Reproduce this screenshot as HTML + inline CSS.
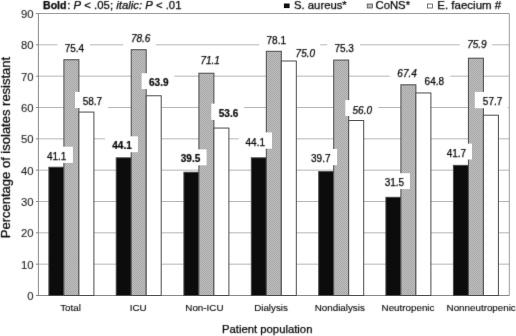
<!DOCTYPE html>
<html><head><meta charset="utf-8"><title>Chart</title>
<style>
html,body{margin:0;padding:0;background:#fff;}
body{width:516px;height:336px;overflow:hidden;}
svg{display:block;}
svg text{font-family:"Liberation Sans",sans-serif;fill:#050505;stroke:#050505;stroke-width:0.25px;}
</style></head><body>
<svg width="516" height="336" viewBox="0 0 516 336">
<defs><filter id="soft" x="0" y="0" width="516" height="336" filterUnits="userSpaceOnUse" color-interpolation-filters="sRGB"><feConvolveMatrix order="3" kernelMatrix="0.01134 0.08382 0.01134 0.08382 0.61935 0.08382 0.01134 0.08382 0.01134" edgeMode="duplicate" preserveAlpha="false"/></filter><pattern id="dots" width="2" height="2" patternUnits="userSpaceOnUse"><rect width="2" height="2" fill="#bdbdbd"/><rect width="1" height="1" fill="#a9a9a9"/><rect x="1" y="1" width="1" height="1" fill="#a9a9a9"/></pattern></defs>
<rect width="516" height="336" fill="#ffffff"/>
<g stroke="#b6b6b6" stroke-width="1" fill="none">
<line x1="38.4" y1="264.17" x2="509.3" y2="264.17"/>
<line x1="38.4" y1="232.83" x2="509.3" y2="232.83"/>
<line x1="38.4" y1="201.50" x2="509.3" y2="201.50"/>
<line x1="38.4" y1="170.17" x2="509.3" y2="170.17"/>
<line x1="38.4" y1="138.83" x2="509.3" y2="138.83"/>
<line x1="38.4" y1="107.50" x2="509.3" y2="107.50"/>
<line x1="38.4" y1="76.17" x2="509.3" y2="76.17"/>
<line x1="38.4" y1="44.83" x2="509.3" y2="44.83"/>
</g>
<g stroke="#8a8a8a" stroke-width="1" fill="none">
<path d="M38.4 13.50 H509.3 V295.50" stroke="#9c9c9c"/>
<line x1="38.4" y1="13.50" x2="38.4" y2="295.50"/>
<line x1="35.9" y1="295.50" x2="509.3" y2="295.50"/>
<line x1="35.9" y1="264.17" x2="38.4" y2="264.17"/>
<line x1="35.9" y1="232.83" x2="38.4" y2="232.83"/>
<line x1="35.9" y1="201.50" x2="38.4" y2="201.50"/>
<line x1="35.9" y1="170.17" x2="38.4" y2="170.17"/>
<line x1="35.9" y1="138.83" x2="38.4" y2="138.83"/>
<line x1="35.9" y1="107.50" x2="38.4" y2="107.50"/>
<line x1="35.9" y1="76.17" x2="38.4" y2="76.17"/>
<line x1="35.9" y1="44.83" x2="38.4" y2="44.83"/>
<line x1="35.9" y1="13.50" x2="38.4" y2="13.50"/>
</g>
<g stroke="#4c4c4c" stroke-width="1">
<rect x="48.90" y="167.22" width="15.00" height="128.28" fill="#0c0c0c"/>
<rect x="63.90" y="59.75" width="15.00" height="235.75" fill="url(#dots)"/>
<rect x="78.90" y="112.07" width="15.00" height="183.43" fill="#ffffff"/>
<rect x="116.20" y="157.82" width="15.00" height="137.68" fill="#0c0c0c"/>
<rect x="131.20" y="49.72" width="15.00" height="245.78" fill="url(#dots)"/>
<rect x="146.20" y="95.78" width="15.00" height="199.72" fill="#ffffff"/>
<rect x="183.90" y="172.23" width="15.00" height="123.27" fill="#0c0c0c"/>
<rect x="198.90" y="73.22" width="15.00" height="222.28" fill="url(#dots)"/>
<rect x="213.90" y="128.05" width="15.00" height="167.45" fill="#ffffff"/>
<rect x="251.30" y="157.82" width="15.00" height="137.68" fill="#0c0c0c"/>
<rect x="266.30" y="51.29" width="15.00" height="244.21" fill="url(#dots)"/>
<rect x="281.30" y="61.00" width="15.00" height="234.50" fill="#ffffff"/>
<rect x="318.70" y="171.61" width="15.00" height="123.89" fill="#0c0c0c"/>
<rect x="333.70" y="60.06" width="15.00" height="235.44" fill="url(#dots)"/>
<rect x="348.70" y="120.53" width="15.00" height="174.97" fill="#ffffff"/>
<rect x="385.90" y="197.30" width="15.00" height="98.20" fill="#0c0c0c"/>
<rect x="400.90" y="84.81" width="15.00" height="210.69" fill="url(#dots)"/>
<rect x="415.90" y="92.96" width="15.00" height="202.54" fill="#ffffff"/>
<rect x="453.40" y="165.34" width="15.00" height="130.16" fill="#0c0c0c"/>
<rect x="468.40" y="58.18" width="15.00" height="237.32" fill="url(#dots)"/>
<rect x="483.40" y="115.21" width="15.00" height="180.29" fill="#ffffff"/>
</g>
<g fill="#ffffff">
<rect x="39.9" y="146.7" width="33.0" height="16.2"/>
<rect x="57.4" y="40.0" width="32.4" height="16.0"/>
<rect x="75.0" y="91.9" width="33.1" height="16.1"/>
<rect x="105.0" y="136.3" width="32.9" height="15.9"/>
<rect x="123.3" y="30.0" width="32.5" height="16.0"/>
<rect x="141.6" y="73.2" width="32.8" height="15.9"/>
<rect x="173.6" y="149.4" width="33.0" height="15.9"/>
<rect x="193.5" y="52.0" width="33.0" height="16.0"/>
<rect x="211.3" y="103.6" width="32.7" height="16.3"/>
<rect x="238.7" y="132.4" width="33.3" height="16.3"/>
<rect x="259.3" y="31.0" width="33.0" height="16.0"/>
<rect x="287.2" y="44.0" width="33.0" height="15.5"/>
<rect x="304.1" y="148.9" width="33.0" height="16.3"/>
<rect x="327.2" y="40.0" width="33.0" height="16.0"/>
<rect x="345.3" y="100.1" width="33.0" height="15.9"/>
<rect x="376.9" y="173.2" width="33.0" height="15.9"/>
<rect x="389.6" y="65.0" width="33.0" height="16.0"/>
<rect x="417.4" y="73.5" width="33.0" height="16.0"/>
<rect x="439.0" y="143.6" width="33.0" height="15.9"/>
<rect x="459.6" y="35.5" width="32.5" height="16.0"/>
<rect x="474.8" y="91.9" width="33.0" height="16.3"/>
</g>
<g filter="url(#soft)">
<text x="56.70" y="159.7" font-size="10" text-anchor="middle">41.1</text>
<text x="74.42" y="52.4" font-size="10" text-anchor="middle">75.4</text>
<text x="92.45" y="105.2" font-size="10" text-anchor="middle">58.7</text>
<text x="122.00" y="149.3" font-size="10" font-weight="bold" style="stroke-width:0.2px" text-anchor="middle">44.1</text>
<text x="140.70" y="42.3" font-size="10" font-style="italic" text-anchor="middle">78.6</text>
<text x="158.75" y="85.8" font-size="10" font-weight="bold" style="stroke-width:0.2px" text-anchor="middle">63.9</text>
<text x="190.55" y="161.7" font-size="10" font-weight="bold" style="stroke-width:0.2px" text-anchor="middle">39.5</text>
<text x="210.20" y="63.8" font-size="10" font-style="italic" text-anchor="middle">71.1</text>
<text x="228.55" y="116.6" font-size="10" font-weight="bold" style="stroke-width:0.2px" text-anchor="middle">53.6</text>
<text x="255.30" y="145.8" font-size="10" text-anchor="middle">44.1</text>
<text x="276.30" y="43.8" font-size="10" text-anchor="middle">78.1</text>
<text x="305.35" y="56.6" font-size="10" font-style="italic" text-anchor="middle">75.0</text>
<text x="320.80" y="161.7" font-size="10" text-anchor="middle">39.7</text>
<text x="344.20" y="52.3" font-size="10" text-anchor="middle">75.3</text>
<text x="362.30" y="113.5" font-size="10" font-style="italic" text-anchor="middle">56.0</text>
<text x="394.45" y="186.1" font-size="10" text-anchor="middle">31.5</text>
<text x="407.10" y="77.3" font-size="10" font-style="italic" text-anchor="middle">67.4</text>
<text x="434.35" y="85.4" font-size="10" text-anchor="middle">64.8</text>
<text x="456.45" y="156.6" font-size="10" text-anchor="middle">41.7</text>
<text x="476.95" y="47.5" font-size="10" font-style="italic" text-anchor="middle">75.9</text>
<text x="492.60" y="105.3" font-size="10" text-anchor="middle">57.7</text>
<text x="33.5" y="299.85" font-size="11.3" text-anchor="end" style="stroke-width:0.1px;fill:#222;stroke:#222">0</text>
<text x="33.5" y="268.52" font-size="11.3" text-anchor="end" style="stroke-width:0.1px;fill:#222;stroke:#222">10</text>
<text x="33.5" y="237.18" font-size="11.3" text-anchor="end" style="stroke-width:0.1px;fill:#222;stroke:#222">20</text>
<text x="33.5" y="205.85" font-size="11.3" text-anchor="end" style="stroke-width:0.1px;fill:#222;stroke:#222">30</text>
<text x="33.5" y="174.52" font-size="11.3" text-anchor="end" style="stroke-width:0.1px;fill:#222;stroke:#222">40</text>
<text x="33.5" y="143.18" font-size="11.3" text-anchor="end" style="stroke-width:0.1px;fill:#222;stroke:#222">50</text>
<text x="33.5" y="111.85" font-size="11.3" text-anchor="end" style="stroke-width:0.1px;fill:#222;stroke:#222">60</text>
<text x="33.5" y="80.52" font-size="11.3" text-anchor="end" style="stroke-width:0.1px;fill:#222;stroke:#222">70</text>
<text x="33.5" y="49.18" font-size="11.3" text-anchor="end" style="stroke-width:0.1px;fill:#222;stroke:#222">80</text>
<text x="33.5" y="17.85" font-size="11.3" text-anchor="end" style="stroke-width:0.1px;fill:#222;stroke:#222">90</text>
<text x="70.55" y="311.2" font-size="9.8" text-anchor="middle" style="stroke-width:0.12px">Total</text>
<text x="138.15" y="311.2" font-size="9.8" text-anchor="middle" style="stroke-width:0.12px">ICU</text>
<text x="204.40" y="311.2" font-size="9.8" text-anchor="middle" style="stroke-width:0.12px">Non-ICU</text>
<text x="271.00" y="311.2" font-size="9.8" text-anchor="middle" style="stroke-width:0.12px">Dialysis</text>
<text x="339.80" y="311.2" font-size="9.8" text-anchor="middle" style="stroke-width:0.12px">Nondialysis</text>
<text x="408.00" y="311.2" font-size="9.8" text-anchor="middle" style="stroke-width:0.12px">Neutropenic</text>
<text x="446.6" y="311.2" font-size="9.8" text-anchor="start" style="stroke-width:0.12px">Nonneutropenic</text>
<text x="267.2" y="333.2" font-size="11.3" text-anchor="middle">Patient population</text>
<text transform="translate(10.2,147.5) rotate(-90)" font-size="13" text-anchor="middle">Percentage of isolates resistant</text>
<text x="43.0" y="8.5" font-size="10.6" font-weight="bold">Bold</text>
<text x="67.3" y="8.5" font-size="11.35">: <tspan font-style="italic">P</tspan> &lt; .05; <tspan font-style="italic">italic: P</tspan> &lt; .01</text>
<text x="294.0" y="9.3" font-size="11.3">S. aureus*</text>
<text x="375.5" y="9.3" font-size="11.3">CoNS*</text>
<text x="437.3" y="9.3" font-size="11.5">E. faecium #</text>
</g>
<rect x="283.9" y="3.5" width="5.7" height="4.6" fill="#101010"/>
<rect x="367.2" y="4.0" width="5.2" height="4.0" fill="#b8b8b8" stroke="#555" stroke-width="0.8"/>
<rect x="427.5" y="4.0" width="5.0" height="4.0" fill="#fff" stroke="#555" stroke-width="0.8"/>
</svg>
</body></html>
